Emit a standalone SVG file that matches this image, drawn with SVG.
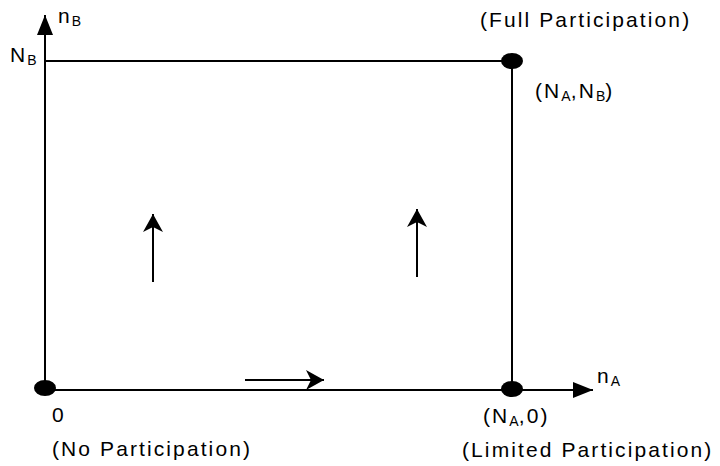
<svg xmlns="http://www.w3.org/2000/svg" width="720" height="466" viewBox="0 0 720 466">
<style>
.ln{stroke:#000;stroke-width:2;fill:none}
.t{font-family:"Liberation Sans",Arial,sans-serif;font-size:21px;fill:#000;letter-spacing:2.1px}
.s{font-size:14px;letter-spacing:0}
</style>
<defs>
<marker id="ah" viewBox="0 0 20 16" refX="20" refY="8" markerWidth="20" markerHeight="16" markerUnits="userSpaceOnUse" orient="auto">
<path d="M0,0 L20,8 L0,16 z" fill="#000"/>
</marker>
<marker id="sh" viewBox="0 0 20 20" refX="18" refY="10" markerWidth="20" markerHeight="20" markerUnits="userSpaceOnUse" orient="auto">
<path d="M0,0 L18,10 L0,20 L5,10 z" fill="#000"/>
</marker>
</defs>
<rect width="720" height="466" fill="#fff"/>
<g id="connectors">
<line class="ln" x1="45" y1="390" x2="45" y2="15" marker-end="url(#ah)"/>
<line class="ln" x1="45" y1="390" x2="593" y2="390" marker-end="url(#ah)"/>
<line class="ln" x1="45" y1="61" x2="512" y2="61"/>
<line class="ln" x1="512" y1="61" x2="512" y2="390"/>
<line class="ln" x1="153" y1="282" x2="153" y2="214" marker-end="url(#sh)"/>
<line class="ln" x1="417" y1="277" x2="417" y2="209" marker-end="url(#sh)"/>
<line class="ln" x1="245" y1="380" x2="324" y2="380" marker-end="url(#sh)"/>
</g>
<g id="origin">
<ellipse cx="45" cy="388" rx="11" ry="8" fill="#000"/>
<text class="t" x="52" y="422">0</text>
<text class="t" x="52" y="456">(No Participation)</text>
</g>
<g id="full">
<ellipse cx="512" cy="61" rx="11" ry="8" fill="#000"/>
<text class="t" x="480" y="27">(Full Participation)</text>
<text class="t" x="535" y="98">(N<tspan class="s" dy="3">A</tspan><tspan dy="-3">,N</tspan><tspan class="s" dy="3">B</tspan><tspan dy="-3">)</tspan></text>
</g>
<g id="limited">
<ellipse cx="512" cy="389" rx="11" ry="8" fill="#000"/>
<text class="t" x="483" y="423">(N<tspan class="s" dy="3">A</tspan><tspan dy="-3">,0)</tspan></text>
<text class="t" x="462" y="457">(Limited Participation)</text>
</g>
<g id="axis-labels">
<text class="t" x="58" y="23">n<tspan class="s" dy="3">B</tspan></text>
<text class="t" x="10" y="62">N<tspan class="s" dy="3">B</tspan></text>
<text class="t" x="597" y="383">n<tspan class="s" dy="3">A</tspan></text>
</g>
</svg>
